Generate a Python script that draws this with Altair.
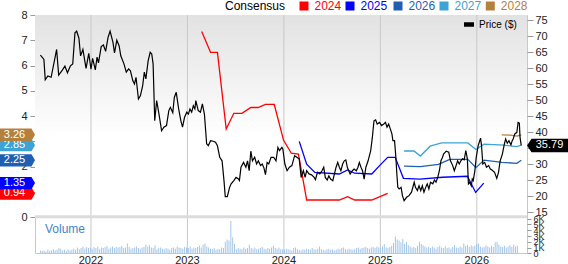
import altair as alt
import pandas as pd

FONT = "Liberation Sans"

# ---------------- data (time as decimal years) ----------------
price_t = [2021.476, 2021.512, 2021.526, 2021.553, 2021.587, 2021.644, 2021.665, 2021.705, 2021.730, 2021.756,
           2021.787, 2021.811, 2021.834, 2021.852, 2021.875, 2021.892, 2021.916, 2021.949, 2021.977, 2022.000,
           2022.017, 2022.045, 2022.063, 2022.078, 2022.106, 2022.129, 2022.152, 2022.177, 2022.198, 2022.228,
           2022.244, 2022.268, 2022.292, 2022.309, 2022.342, 2022.366, 2022.390, 2022.409, 2022.434, 2022.451,
           2022.467, 2022.492, 2022.512, 2022.536, 2022.553, 2022.569, 2022.593, 2022.614, 2022.630, 2022.644,
           2022.661, 2022.681, 2022.705, 2022.732, 2022.756, 2022.783, 2022.807, 2022.823, 2022.848, 2022.864,
           2022.884, 2022.909, 2022.932, 2022.949, 2022.970, 2022.993, 2023.010, 2023.026, 2023.044, 2023.061,
           2023.077, 2023.087, 2023.112, 2023.135, 2023.155, 2023.176, 2023.199, 2023.216, 2023.240, 2023.267,
           2023.291, 2023.311, 2023.335, 2023.359, 2023.379, 2023.392, 2023.413, 2023.437, 2023.453, 2023.481,
           2023.504, 2023.528, 2023.539, 2023.555, 2023.582, 2023.606, 2023.623, 2023.640, 2023.657, 2023.674,
           2023.697, 2023.717, 2023.735, 2023.758, 2023.775, 2023.793, 2023.809, 2023.826, 2023.843, 2023.867,
           2023.894, 2023.918, 2023.938, 2023.955, 2023.979, 2023.989, 2024.010, 2024.033, 2024.057, 2024.083,
           2024.111, 2024.134, 2024.159, 2024.179, 2024.202, 2024.220, 2024.236, 2024.260, 2024.287, 2024.314,
           2024.327, 2024.348, 2024.372, 2024.395, 2024.413, 2024.429, 2024.449, 2024.466, 2024.484, 2024.507,
           2024.524, 2024.541, 2024.558, 2024.575, 2024.591, 2024.609, 2024.626, 2024.642, 2024.659, 2024.687,
           2024.710, 2024.728, 2024.751, 2024.768, 2024.782, 2024.799, 2024.815, 2024.832, 2024.850, 2024.873,
           2024.900, 2024.917, 2024.934, 2024.951, 2024.967, 2024.992, 2025.012, 2025.036, 2025.053, 2025.069,
           2025.086, 2025.104, 2025.120, 2025.130, 2025.147, 2025.161, 2025.171, 2025.181, 2025.195, 2025.215,
           2025.229, 2025.246, 2025.272, 2025.297, 2025.323, 2025.351, 2025.364, 2025.384, 2025.401, 2025.419,
           2025.435, 2025.452, 2025.470, 2025.486, 2025.503, 2025.520, 2025.544, 2025.561, 2025.577, 2025.595,
           2025.612, 2025.628, 2025.645, 2025.655, 2025.683, 2025.709, 2025.727, 2025.750, 2025.767, 2025.785,
           2025.801, 2025.818, 2025.835, 2025.852, 2025.869, 2025.886, 2025.902, 2025.913, 2025.927, 2025.943,
           2025.953, 2025.963, 2025.980, 2025.994, 2026.014, 2026.039, 2026.049, 2026.062, 2026.082, 2026.100,
           2026.123, 2026.140, 2026.157, 2026.184, 2026.207, 2026.225, 2026.242, 2026.265, 2026.286, 2026.299,
           2026.316, 2026.333, 2026.354, 2026.367, 2026.377, 2026.394, 2026.415, 2026.428, 2026.441, 2026.448,
           2026.461]
price_v = [64.0, 62.7, 56.3, 57.5, 57.1, 65.8, 57.8, 59.4, 60.6, 58.5,
           60.7, 61.3, 71.0, 71.5, 69.3, 63.8, 65.8, 59.9, 64.6, 59.6,
           63.0, 59.4, 63.4, 61.6, 66.7, 67.2, 65.2, 69.6, 71.5, 68.0,
           64.7, 68.7, 66.9, 63.8, 61.3, 58.7, 59.7, 59.1, 56.0, 55.0,
           57.1, 50.3, 51.3, 54.5, 58.7, 56.6, 62.3, 64.9, 64.4, 61.3,
           43.5, 49.8, 45.6, 40.4, 41.5, 42.0, 46.7, 47.7, 46.0, 50.8,
           52.4, 47.2, 43.5, 41.5, 44.6, 46.2, 45.6, 47.2, 46.2, 48.2,
           47.2, 49.8, 46.7, 46.2, 48.8, 45.6, 36.3, 35.7, 37.3, 37.1,
           36.8, 35.7, 32.1, 31.0, 24.8, 19.8, 19.8, 22.7, 23.8, 24.8,
           25.8, 25.3, 24.8, 29.0, 30.5, 29.0, 31.0, 27.9, 34.0, 31.0,
           32.1, 30.0, 31.0, 29.5, 30.0, 28.8, 26.7, 30.5, 30.0, 32.1,
           32.1, 31.0, 35.2, 34.2, 35.2, 34.7, 30.0, 27.9, 29.0, 29.5,
           32.6, 32.1, 31.6, 25.8, 27.9, 25.8, 27.9, 26.9, 26.6, 25.8,
           25.1, 27.4, 26.9, 27.9, 29.0, 25.8, 25.0, 26.3, 25.3, 24.8,
           26.9, 29.0, 30.5, 29.0, 27.9, 30.0, 31.0, 31.3, 28.8, 26.9,
           27.9, 28.4, 27.9, 29.0, 30.5, 29.0, 27.9, 25.3, 29.0, 31.0,
           34.2, 38.3, 43.5, 43.8, 42.5, 43.0, 42.0, 42.5, 43.0, 41.5,
           42.5, 40.9, 39.4, 37.3, 37.3, 32.1, 26.9, 22.7, 22.2, 22.7,
           20.1, 18.5, 19.6, 20.1, 21.2, 24.3, 22.7, 21.7, 23.2, 21.7,
           23.2, 21.2, 22.7, 23.8, 22.2, 24.3, 23.8, 25.0, 24.3, 25.8,
           27.9, 31.0, 32.1, 33.1, 34.0, 33.7, 31.0, 29.5, 27.9, 29.5,
           31.0, 30.0, 31.0, 31.6, 31.3, 34.2, 31.6, 23.8, 24.3, 23.2,
           25.3, 24.8, 27.9, 32.1, 35.7, 38.1, 35.7, 30.0, 30.5, 29.0,
           29.5, 28.4, 28.1, 27.4, 25.5, 27.4, 31.0, 33.1, 36.3, 37.8,
           36.5, 37.3, 36.0, 37.3, 37.8, 39.4, 39.9, 43.0, 42.8, 38.3,
           35.79]

eps24_t = [2023.148, 2023.240, 2023.311, 2023.402, 2023.481, 2023.565, 2023.657, 2023.732, 2023.809, 2023.900,
           2023.996, 2024.077, 2024.151, 2024.236, 2024.321, 2024.575, 2024.660, 2024.734, 2024.911, 2025.076]
eps24_v = [7.35, 6.52, 6.52, 3.49, 4.11, 4.11, 4.34, 4.34, 4.46, 4.46,
           3.05, 2.53, 2.50, 0.68, 0.68, 0.68, 0.81, 0.68, 0.68, 0.94]
eps25_t = [2024.159, 2024.236, 2024.321, 2024.575, 2024.660, 2024.734, 2024.911, 2024.992, 2025.076, 2025.154,
           2025.239, 2025.409, 2025.645, 2025.902, 2025.988, 2026.072]
eps25_v = [3.00, 2.10, 1.77, 1.71, 1.87, 1.74, 1.71, 2.04, 2.37, 2.37,
           1.54, 1.51, 1.58, 1.62, 0.98, 1.35]
eps26_t = [2025.246, 2025.415, 2025.602, 2025.720, 2025.907, 2025.991, 2026.075, 2026.262, 2026.415, 2026.461]
eps26_v = [2.02, 2.00, 2.09, 2.29, 2.29, 1.96, 2.26, 2.17, 2.13, 2.25]
eps27_t = [2025.246, 2025.348, 2025.415, 2025.516, 2025.635, 2025.907, 2025.991, 2026.075, 2026.278, 2026.415,
           2026.461]
eps27_v = [2.62, 2.62, 2.42, 2.81, 2.94, 2.94, 2.68, 2.89, 2.85, 2.79, 2.85]
eps28_t = [2026.259, 2026.348, 2026.417, 2026.461]
eps28_v = [3.26, 3.25, 3.21, 3.26]

series_names = ["2024", "2025", "2026", "2027", "2028"]
series_colors = ["#ff0000", "#0000ff", "#1f5fb3", "#3da2d4", "#b5803c"]

# weekly volume (thousands), first week starting at vol_start
vol_start = 2021.476
vol_k = [0.5, 0.4, 0.5, 0.3, 0.6, 0.4, 0.5, 0.7, 0.5, 0.6, 0.9, 0.8, 0.5, 0.6, 0.4, 0.7, 0.5, 0.6, 0.8, 0.6,
         1.0, 0.7, 0.9, 1.2, 0.8, 1.1, 0.9,
         1.0, 0.8, 1.1, 0.9, 1.2, 0.7, 1.0, 0.9, 1.1, 1.3, 0.8, 1.0, 1.2, 0.9, 1.1, 1.0, 1.1, 1.3, 0.9, 1.0,
         1.7, 1.1, 0.8, 0.9, 1.0, 1.2, 0.9, 0.8, 1.0, 1.1, 1.5, 1.2, 1.4, 1.0, 0.9, 1.4, 0.7, 0.9, 1.0, 0.8,
         0.7, 0.9, 0.8, 0.6, 0.9, 1.0, 0.8, 1.2, 1.0, 0.9, 0.8, 1.1,
         1.0, 0.9, 1.2, 0.8, 1.0, 0.9, 1.1, 1.3, 1.0, 1.5, 1.7, 1.2, 1.0, 0.8, 0.7, 0.9, 0.6, 0.8, 0.7, 1.0,
         0.9, 2.0, 2.4, 2.2, 5.6, 2.8, 1.6, 0.7, 0.9, 0.8, 0.7, 1.0, 0.8, 0.9, 1.5, 0.9, 0.8, 1.0, 0.7, 0.8,
         0.9, 1.1, 0.8, 0.7, 0.9, 0.8, 1.0, 1.3, 0.9, 0.8, 1.0, 0.7,
         0.7, 0.6, 0.8, 0.7, 0.6, 0.5, 0.9, 1.0, 0.7, 0.6, 0.5, 0.7, 0.6, 0.8, 0.7, 0.6, 0.9, 0.7, 0.6, 0.8,
         1.2, 0.7, 0.6, 0.5, 0.7, 0.8, 0.6, 0.7, 0.5, 0.6, 0.8, 0.7, 0.9, 1.0, 0.7, 0.6, 0.8, 0.7, 0.6, 0.7,
         0.9, 1.0, 0.8, 0.9, 1.0, 1.1, 0.9, 0.8, 1.0, 1.1, 0.9, 1.2,
         1.0, 0.9, 1.2, 1.6, 1.0, 0.9, 1.1, 1.3, 1.8, 2.9, 2.4, 2.2, 1.9, 2.5, 1.6, 2.0, 1.4, 1.2, 1.0, 1.1,
         0.9, 1.3, 2.0, 1.6, 1.4, 1.2, 1.0, 1.1, 0.9, 1.2, 1.0, 0.8, 1.1, 1.3, 1.0, 0.9, 1.2, 0.9, 1.0, 0.8,
         1.1, 1.4, 1.0, 0.9, 1.2, 1.0, 1.7, 1.3, 1.5, 1.1, 1.4, 1.2,
         1.3, 1.6, 1.7, 1.2, 1.0, 1.1, 1.4, 1.2, 1.0, 1.3, 1.1, 1.9, 2.0, 1.5, 1.2, 1.1, 1.3, 1.0, 1.2, 1.4,
         1.1, 1.5, 1.2, 1.3]

year_ticks = [2022, 2023, 2024, 2025, 2026]
eps_ticks = [0, 1, 2, 3, 4, 5, 6, 7, 8]
price_ticks = [15, 20, 25, 30, 35, 40, 45, 50, 55, 60, 65, 70, 75]
vol_ticks = [0, 1, 2, 3, 4, 5, 6]

# ---------------- tables ----------------
price_df = pd.DataFrame({"t": price_t, "p": price_v})
last_price = price_df.tail(1).copy()
last_price["label"] = last_price["p"].map(lambda v: f"{v:.2f}")

eps_sets = [(eps24_t, eps24_v), (eps25_t, eps25_v), (eps26_t, eps26_v), (eps27_t, eps27_v), (eps28_t, eps28_v)]
cons_df = pd.concat([pd.DataFrame({"series": s, "t": t, "eps": v})
                     for s, (t, v) in zip(series_names, eps_sets)], ignore_index=True)
tag_df = pd.DataFrame({"series": series_names, "eps": [v[-1] for _, v in eps_sets]})

vol_df = pd.DataFrame({"t": [vol_start + i * 7 / 365.25 for i in range(len(vol_k))], "v": vol_k})
years_df = pd.DataFrame({"year": year_ticks})
one = pd.DataFrame({"a": [0]})

# ---------------- scales / axes ----------------
W, H = 492, 238
x_scale = alt.Scale(domain=[2021.4715, 2026.4685], nice=False, zero=False)
eps_scale = alt.Scale(domain=[0, 8], range=[202.2, 0], nice=False, zero=False)
price_scale = alt.Scale(domain=[15, 75], range=[197, 5], nice=False, zero=False)
vol_scale = alt.Scale(domain=[0, 6], range=[238.3, 203.7], nice=False, zero=False)
color_scale = alt.Scale(domain=series_names, range=series_colors)

# labels 1 and 3 sit fully under the estimate tags, 35 under the price tag
eps_axis = alt.Axis(orient="left", values=eps_ticks, grid=False, domain=False, tickSize=5, tickColor="#999",
                    labelExpr="datum.value == 1 || datum.value == 3 ? '' : datum.label",
                    labelFontSize=11, labelColor="#222", labelPadding=3, labelFlush=False, title=None, zindex=0)
price_axis = alt.Axis(orient="right", values=price_ticks, grid=True, gridColor="#c8c8c8", domain=False,
                      labelExpr="datum.value == 35 ? '' : datum.label",
                      tickSize=6, tickColor="#999", labelFontSize=11, labelColor="#222", labelPadding=2,
                      labelFlush=False, title=None, zindex=0)
vol_axis = alt.Axis(orient="right", values=vol_ticks, labelExpr="datum.value == 0 ? '0' : datum.value + 'K'",
                    grid=False, domain=False, tickSize=4, tickColor="#999", labelFontSize=9, labelColor="#222",
                    labelPadding=2, labelOverlap=False, labelFlush=False, title=None, zindex=0)

TAG_L = "M-1,-0.354L0.8,-0.354L1,0L0.8,0.354L-1,0.354Z"
TAG_R = "M1,-0.327L-0.78,-0.327L-1,0L-0.78,0.327L1,0.327Z"

# ---------------- layers ----------------
layers = []

layers.append(alt.Chart(one).mark_rect(
    fill=alt.LinearGradient(gradient="linear",
                            stops=[alt.GradientStop(color="#e2e2e2", offset=0),
                                   alt.GradientStop(color="#ffffff", offset=0.6)],
                            x1=0, x2=0, y1=0, y2=1)
).encode(x=alt.value(0), x2=alt.value(W), y=alt.value(0), y2=alt.value(202)))

# vertical year gridlines spanning both panels
layers.append(alt.Chart(years_df).mark_rule(color="#c8c8c8", strokeWidth=1).encode(
    x=alt.X("year:Q", scale=x_scale, axis=None)))
# year labels under the volume panel
layers.append(alt.Chart(years_df).mark_text(fontSize=11, font=FONT, color="#222", align="center",
                                            baseline="top").encode(
    x=alt.X("year:Q", scale=x_scale, axis=None), y=alt.value(H + 1.5), text=alt.Text("year:Q", format="d")))

layers.append(alt.Chart(one).mark_rule(color="#dcdcdc", strokeWidth=3).encode(
    x=alt.value(0), x2=alt.value(W), y=alt.value(201.8)))

layers.append(alt.Chart(vol_df).mark_bar(size=1, color="#a3c6e8").encode(
    x=alt.X("t:Q", scale=x_scale, axis=None),
    y=alt.Y("v:Q", scale=vol_scale, axis=vol_axis)))

layers.append(alt.Chart(one).mark_text(text="Volume", color="#3f86c8", fontSize=12, font=FONT, align="left",
                                       baseline="alphabetic").encode(x=alt.value(10), y=alt.value(218.3)))

layers.append(alt.Chart(cons_df).mark_line(strokeWidth=1.3).encode(
    x=alt.X("t:Q", scale=x_scale, axis=None),
    y=alt.Y("eps:Q", scale=eps_scale, axis=eps_axis),
    color=alt.Color("series:N", scale=color_scale, legend=None)))

layers.append(alt.Chart(price_df).mark_line(color="black", strokeWidth=1.2).encode(
    x=alt.X("t:Q", scale=x_scale, axis=None),
    y=alt.Y("p:Q", scale=price_scale, axis=price_axis)))

for s in series_names:
    base = alt.Chart(tag_df).transform_filter(alt.datum.series == s)
    layers.append(base.mark_point(shape=TAG_L, size=1225, filled=True, opacity=1, strokeWidth=0).encode(
        x=alt.value(-17.5),
        y=alt.Y("eps:Q", scale=eps_scale, axis=None),
        color=alt.Color("series:N", scale=color_scale, legend=None)))
    layers.append(base.mark_text(color="white", fontSize=11, font=FONT, align="center",
                                 baseline="middle").encode(
        x=alt.value(-20.5),
        y=alt.Y("eps:Q", scale=eps_scale, axis=None),
        text=alt.Text("eps:Q", format=".2f")))

layers.append(alt.Chart(last_price).mark_point(shape=TAG_R, size=1681, filled=True, opacity=1, color="black",
                                               strokeWidth=0).encode(
    x=alt.value(512.5), y=alt.Y("p:Q", scale=price_scale, axis=None)))
layers.append(alt.Chart(last_price).mark_text(color="white", fontSize=11, font=FONT, align="center",
                                              baseline="middle").encode(
    x=alt.value(514.5), y=alt.Y("p:Q", scale=price_scale, axis=None), text="label:N"))

# top "Consensus" legend: one single-entry legend per series so each label keeps its colour
legend_x = [190, 309, 357, 403, 449.3]
for i, (s, c) in enumerate(zip(series_names, series_colors)):
    extra = dict(title="Consensus", titleOrient="left", titleFontSize=12, titleFontWeight="normal",
                 titleColor="#000", titlePadding=12, titleFont=FONT) if i == 0 else dict(title=None)
    layers.append(alt.Chart(tag_df).transform_filter(alt.datum.series == s).mark_square(
        opacity=0, size=81, filled=True).encode(
        color=alt.Color("series:N", scale=alt.Scale(domain=[s], range=[c]), legend=alt.Legend(
            orient="none", legendX=legend_x[i], legendY=-15, direction="horizontal",
            labelFont=FONT, labelFontSize=12, labelColor=c, symbolType="square", symbolSize=81,
            symbolStrokeWidth=0, labelOffset=4.5, padding=0, **extra))))

layers.append(alt.Chart(pd.DataFrame({"name": ["Price ($)"]})).mark_square(opacity=0).encode(
    fill=alt.Fill("name:N", scale=alt.Scale(domain=["Price ($)"], range=["#000000"]), legend=alt.Legend(
        title=None, orient="none", legendX=429, legendY=4.5, labelFont=FONT, labelFontSize=10,
        labelColor="#000", labelOffset=5, symbolType="M-1,-0.45H1V0.45H-1Z", symbolSize=100,
        symbolStrokeWidth=0, padding=0))))

chart = alt.layer(*layers).resolve_scale(y="independent", color="independent").properties(
    width=W, height=H,
    autosize=alt.AutoSizeParams(type="none"),
    padding={"left": 35, "top": 15, "right": 41, "bottom": 11},
).configure_view(stroke="#c8c8c8", strokeWidth=1).configure_axis(labelFont=FONT).configure_text(font=FONT)

chart.save("out.html", embed_options={"renderer": "svg", "actions": False})
